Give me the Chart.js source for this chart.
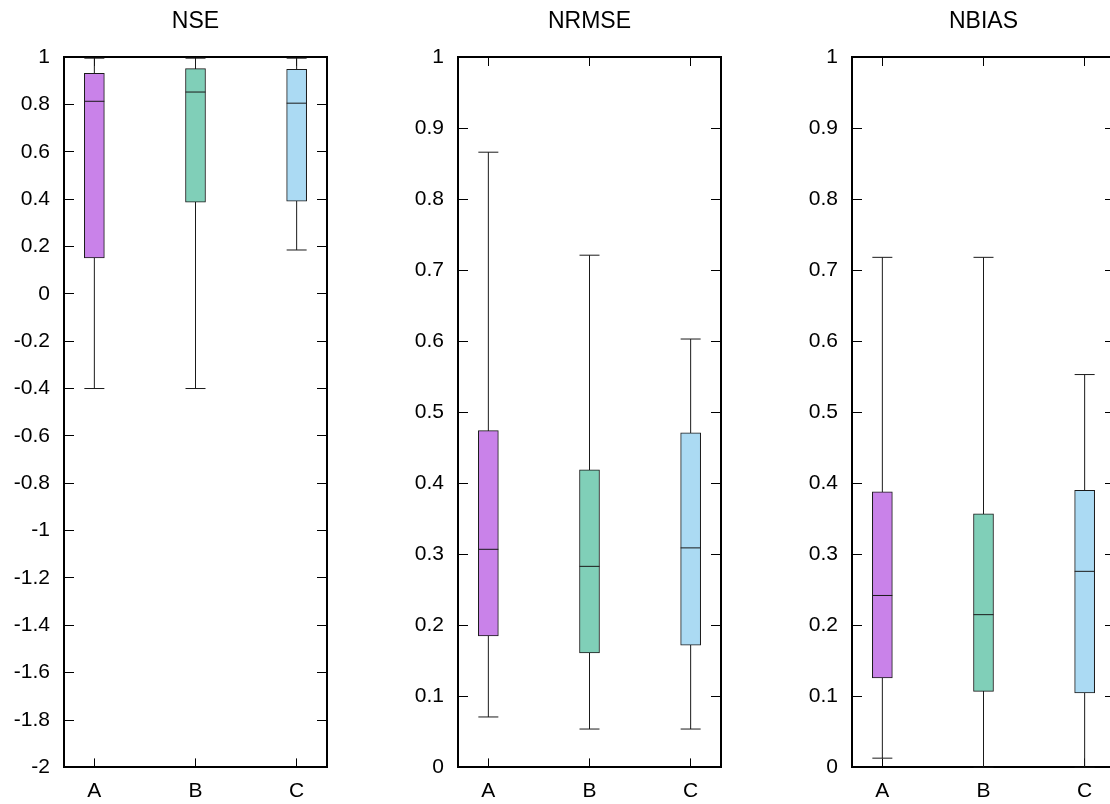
<!DOCTYPE html>
<html>
<head>
<meta charset="UTF-8">
<title>NSE / NRMSE / NBIAS</title>
<script src="https://cdn.jsdelivr.net/npm/chart.js"></script>
<style>
  html, body { margin: 0; padding: 0; background: #fff; overflow: hidden; }
  .panel { position: absolute; top: 0; width: 340px; height: 804px; }
</style>
</head>
<body>
<div class="panel" style="left:0px"><canvas id="nse" width="340" height="804"></canvas></div>
<div class="panel" style="left:394px"><canvas id="nrmse" width="340" height="804"></canvas></div>
<div class="panel" style="left:788px"><canvas id="nbias" width="340" height="804"></canvas></div>
<script>
// categories and box colours
var categories = ['A', 'B', 'C'];
var boxColors = ['#c982e9', '#80cfb8', '#abdaf3'];

// y tick values per panel
var nseTicks = [-2, -1.8, -1.6, -1.4, -1.2, -1, -0.8, -0.6, -0.4, -0.2, 0, 0.2, 0.4, 0.6, 0.8, 1];
var unitTicks = [0, 0.1, 0.2, 0.3, 0.4, 0.5, 0.6, 0.7, 0.8, 0.9, 1];

// NSE box stats (A, B, C)
var nseMin = [-0.40, -0.40, 0.185];
var nseQ1 = [0.151, 0.387, 0.391];
var nseMed = [0.813, 0.852, 0.805];
var nseQ3 = [0.931, 0.951, 0.948];
var nseMax = [0.995, 0.995, 0.995];

// NRMSE box stats
var nrmseMin = [0.071, 0.054, 0.054];
var nrmseQ1 = [0.185, 0.161, 0.172];
var nrmseMed = [0.307, 0.283, 0.309];
var nrmseQ3 = [0.474, 0.419, 0.471];
var nrmseMax = [0.866, 0.721, 0.603];

// NBIAS box stats
var nbiasMin = [0.013, 0, 0];
var nbiasQ1 = [0.126, 0.107, 0.105];
var nbiasMed = [0.242, 0.215, 0.276];
var nbiasQ3 = [0.388, 0.357, 0.390];
var nbiasMax = [0.718, 0.718, 0.553];

Chart.defaults.font.family = "'Liberation Sans', Arial, sans-serif";
Chart.defaults.font.size = 21;
Chart.defaults.color = '#000';

var lineColor = '#1a1a1a';

function fmt(v) {
  return String(Number(v.toFixed(2)));
}

function boxDatasets(mn, q1, med, q3, mx) {
  var ds = [];
  // whiskers (drawn behind boxes)
  categories.forEach(function(c, i) {
    ds.push({
      type: 'line',
      data: [{x: i + 1, y: mn[i]}, {x: i + 1, y: mx[i]}],
      borderColor: lineColor,
      borderWidth: 1,
      pointRadius: 0,
      order: 3
    });
  });
  // boxes
  ds.push({
    type: 'bar',
    data: categories.map(function(c, i) { return {x: i + 1, y: [q1[i], q3[i]]}; }),
    backgroundColor: boxColors,
    borderColor: lineColor,
    borderWidth: 1,
    borderSkipped: false,
    barThickness: 20,
    order: 2
  });
  // medians and whisker caps
  var marks = [];
  categories.forEach(function(c, i) {
    marks.push({x: i + 1, y: med[i]});
    marks.push({x: i + 1, y: mn[i]});
    marks.push({x: i + 1, y: mx[i]});
  });
  ds.push({
    type: 'scatter',
    data: marks,
    pointStyle: 'line',
    pointRadius: 10,
    pointHoverRadius: 10,
    borderColor: lineColor,
    pointBorderColor: lineColor,
    borderWidth: 1,
    order: 1
  });
  return ds;
}

function setTicks(values) {
  return function(scale) {
    scale.ticks = values.map(function(v) { return {value: v}; });
  };
}

function makePanel(id, title, yTicks, mn, q1, med, q3, mx) {
  var ymin = yTicks[0], ymax = yTicks[yTicks.length - 1];
  var border = {display: true, color: '#000', width: 2};
  var xGrid = {drawOnChartArea: false, drawTicks: true, tickLength: -9, color: '#000', lineWidth: 1, offset: false};
  var yGrid = {drawOnChartArea: false, drawTicks: true, tickLength: -10, color: '#000', lineWidth: 1};
  return new Chart(document.getElementById(id), {
    type: 'bar',
    data: {datasets: boxDatasets(mn, q1, med, q3, mx)},
    options: {
      responsive: false,
      animation: false,
      events: [],
      layout: {padding: {right: 13}},
      plugins: {
        legend: {display: false},
        tooltip: {enabled: false},
        title: {
          display: true, text: title, fullSize: false,
          font: {size: 23, weight: 'normal'},
          lineHeight: 1.2,
          padding: {top: 8, bottom: 0}
        }
      },
      scales: {
        x: {
          type: 'linear', position: 'bottom', min: 0.7, max: 3.3, offset: false,
          border: border, grid: xGrid,
          afterBuildTicks: setTicks([1, 2, 3]),
          afterFit: function(s) { s.height = 36; },
          ticks: {padding: 20, autoSkip: false, maxRotation: 0,
            callback: function(v, i) { return categories[i]; }}
        },
        x2: {
          type: 'linear', position: 'top', min: 0.7, max: 3.3, offset: false,
          border: border, grid: xGrid,
          afterBuildTicks: setTicks([1, 2, 3]),
          afterFit: function(s) { s.height = 21.4; },
          ticks: {display: false}
        },
        y: {
          type: 'linear', position: 'left', min: ymin, max: ymax,
          border: border, grid: yGrid,
          afterBuildTicks: setTicks(yTicks),
          afterFit: function(s) { s.width = 64; },
          ticks: {padding: 24, autoSkip: false, callback: function(v) { return fmt(v); }}
        },
        y2: {
          type: 'linear', position: 'right', min: ymin, max: ymax,
          border: border, grid: yGrid,
          afterBuildTicks: setTicks(yTicks),
          afterFit: function(s) { s.width = 0; },
          ticks: {display: false}
        }
      }
    }
  });
}

makePanel('nse', 'NSE', nseTicks, nseMin, nseQ1, nseMed, nseQ3, nseMax);
makePanel('nrmse', 'NRMSE', unitTicks, nrmseMin, nrmseQ1, nrmseMed, nrmseQ3, nrmseMax);
makePanel('nbias', 'NBIAS', unitTicks, nbiasMin, nbiasQ1, nbiasMed, nbiasQ3, nbiasMax);
</script>
</body>
</html>
